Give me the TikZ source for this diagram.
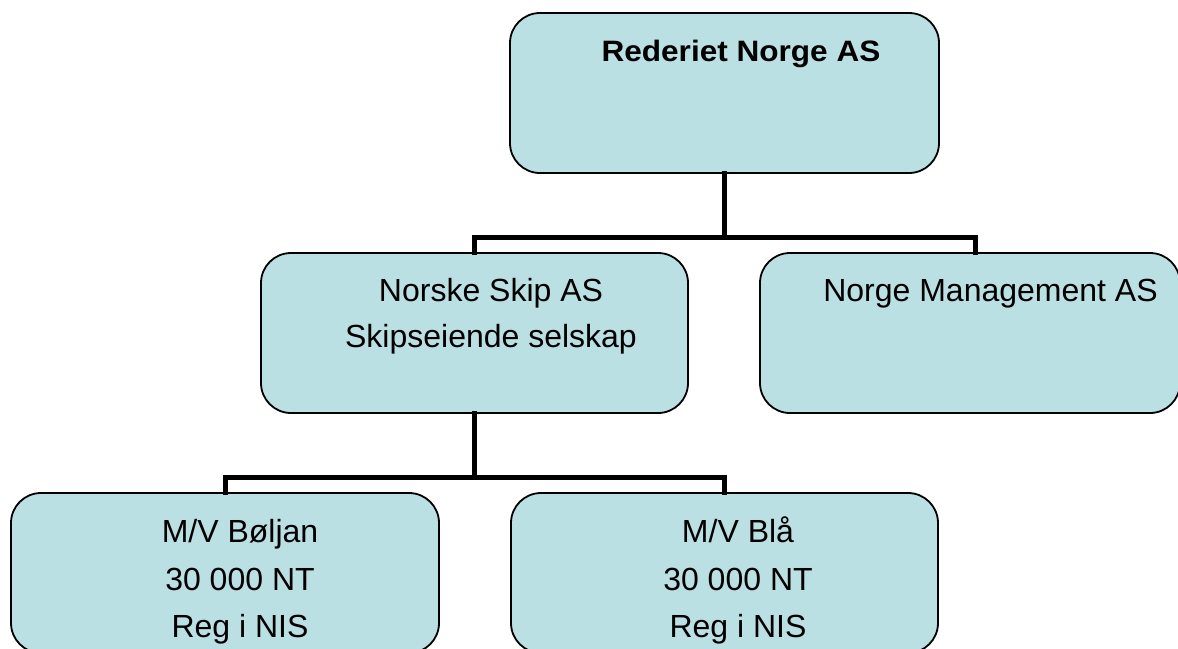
\documentclass[tikz,border=0pt]{standalone}
\usepackage{fontspec}
\setmainfont{Liberation Sans}
\definecolor{boxfill}{HTML}{BBE0E3}
\tikzset{
  orgbox/.style={draw=black, line width=1.8pt, fill=boxfill, rounded corners=30pt,
    rectangle, inner sep=0pt},
  conn/.style={draw=black, line width=5pt, line cap=rect},
  lbl/.style={anchor=base, inner sep=0pt, font=\fontsize{32}{38}\selectfont},
  blbl/.style={anchor=base, inner sep=0pt, font=\fontsize{29.5}{35}\selectfont\bfseries, xscale=1.07},
}
\begin{document}
\begin{tikzpicture}[x=1pt,y=-1pt]
\useasboundingbox (0,0) rectangle (1178,648);
\clip (0,0) rectangle (1178,648);
% boxes
\node[orgbox, minimum width=429pt, minimum height=160pt] (top) at (724.5,93) {};
\node[orgbox, minimum width=427pt, minimum height=160pt] (ml) at (474.5,333) {};
\node[orgbox, minimum width=420pt, minimum height=160pt] (mr) at (970,333) {};
\node[orgbox, minimum width=428pt, minimum height=160pt] (bl) at (225,573) {};
\node[orgbox, minimum width=427pt, minimum height=160pt] (br) at (724.5,573) {};
% connectors
\coordinate (j1) at (724.5,237.5);
\coordinate (j2) at (474.5,477);
\draw[conn] (top.south) -- (j1);
\draw[conn] (j1) -| (ml.north);
\draw[conn] (j1) -| ([xshift=5pt]mr.north);
\draw[conn] (ml.south) -- (j2);
\draw[conn] (j2) -| (bl.north);
\draw[conn] (j2) -| (br.north);
% texts
\node[blbl] (t1) at (741,61) {Rederiet Norge AS};
\node[lbl] (t2a) at (491,301) {Norske Skip AS};
\node[lbl] (t2b) at (491,347) {Skipseiende selskap};
\node[lbl] (t3) at (990.5,301) {Norge Management AS};
\node[lbl] (t4a) at (240,542) {M/V Bøljan};
\node[lbl] (t4b) at (240,590) {30 000 NT};
\node[lbl] (t4c) at (240,637) {Reg i NIS};
\node[lbl] (t5a) at (738,542) {M/V Blå};
\node[lbl] (t5b) at (738,590) {30 000 NT};
\node[lbl] (t5c) at (738,637) {Reg i NIS};
\end{tikzpicture}
\end{document}
